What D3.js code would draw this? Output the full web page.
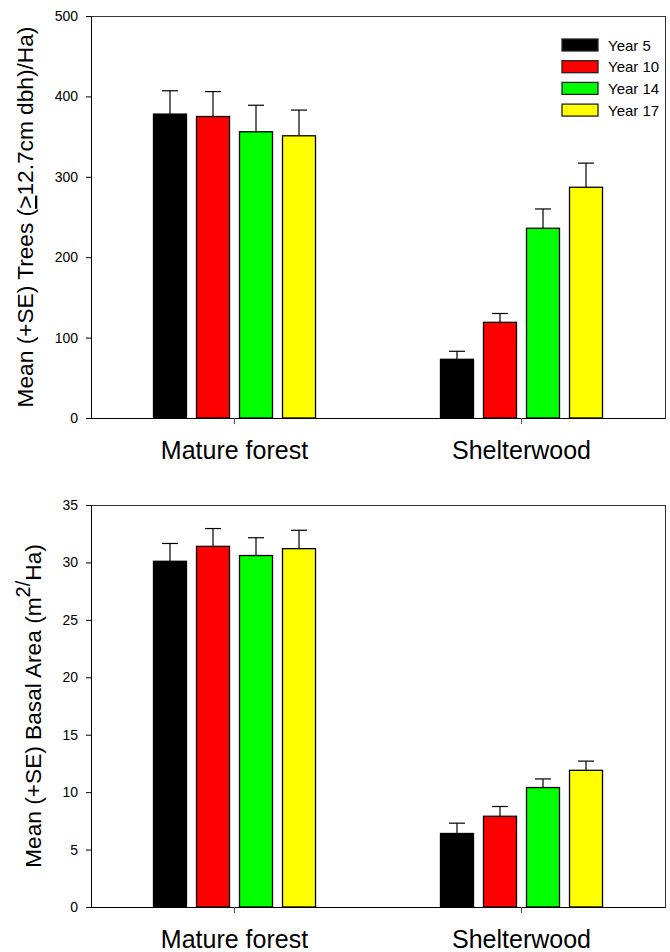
<!DOCTYPE html>
<html>
<head>
<meta charset="utf-8">
<script src="https://cdn.jsdelivr.net/npm/d3@7"></script>
<style>
	html, body { margin: 0; padding: 0; background: #fff; }
	svg { display: block; font-family: Arial, 'Liberation Sans', sans-serif; }
</style>
</head>
<body>
<div id="chart"></div>
<script>
const categories = ['Mature forest', 'Shelterwood'];
const years = ['Year 5', 'Year 10', 'Year 14', 'Year 17'];
const colors = ['#000000', '#ff0000', '#00ff00', '#ffff00'];

// trees per hectare (>=12.7 cm dbh)
const treesMature = [378, 375, 356, 351];
const treesMatureSE = [29, 31, 33, 32];
const treesShelter = [73, 119, 236, 287];
const treesShelterSE = [10, 11, 24, 30];
const treeTicks = [0, 100, 200, 300, 400, 500];

// basal area m2 per hectare
const basalMature = [30.1, 31.4, 30.6, 31.2];
const basalMatureSE = [1.55, 1.55, 1.55, 1.6];
const basalShelter = [6.4, 7.9, 10.4, 11.9];
const basalShelterSE = [0.9, 0.85, 0.75, 0.8];
const basalTicks = [0, 5, 10, 15, 20, 25, 30, 35];

const width = 670;
const height = 952;

const svg = d3
	.select('#chart')
	.append('svg')
	.attr('width', width)
	.attr('height', height);

const toRows = (means, ses) =>
	categories.map((cat, i) => ({
		cat,
		values: years.map((year, j) => ({
			year,
			mean: means[i][j],
			se: ses[i][j],
			fill: colors[j]
		}))
	}));

const drawPanel = ({ top, bottom, left, right, ticks, rows, title }) => {
	const g = svg.append('g');

	const x0 = d3.scaleBand().domain(categories).range([left, right]);
	const x1 = d3
		.scaleBand()
		.domain(years)
		.range([0, x0.bandwidth()])
		.paddingInner(0.2326)
		.paddingOuter(1.453);
	const y = d3
		.scaleLinear()
		.domain([0, d3.max(ticks)])
		.range([bottom, top]);

	// frame
	g.append('rect')
		.attr('x', left)
		.attr('y', top)
		.attr('width', right - left)
		.attr('height', bottom - top)
		.attr('fill', 'none')
		.attr('stroke', '#333')
		.attr('stroke-width', 1)
		.attr('shape-rendering', 'crispEdges');

	const groups = g
		.selectAll('g.cat')
		.data(rows)
		.enter()
		.append('g')
		.attr('class', 'cat')
		.attr('transform', d => `translate(${x0(d.cat)},0)`);

	const bars = groups
		.selectAll('g.bar')
		.data(d => d.values)
		.enter()
		.append('g')
		.attr('class', 'bar');

	// error bars (upper only)
	bars.append('line')
		.attr('x1', d => x1(d.year) + x1.bandwidth() / 2)
		.attr('x2', d => x1(d.year) + x1.bandwidth() / 2)
		.attr('y1', d => y(d.mean))
		.attr('y2', d => y(d.mean + d.se))
		.attr('stroke', '#000')
		.attr('stroke-width', 1.2);

	bars.append('line')
		.attr('x1', d => x1(d.year) + x1.bandwidth() / 2 - 8)
		.attr('x2', d => x1(d.year) + x1.bandwidth() / 2 + 8)
		.attr('y1', d => y(d.mean + d.se))
		.attr('y2', d => y(d.mean + d.se))
		.attr('stroke', '#000')
		.attr('stroke-width', 1.2);

	bars.append('rect')
		.attr('x', d => x1(d.year))
		.attr('y', d => y(d.mean))
		.attr('width', x1.bandwidth())
		.attr('height', d => y(0) - y(d.mean))
		.attr('fill', d => d.fill)
		.attr('stroke', '#000')
		.attr('stroke-width', 1.3);

	// axes
	const yAxis = g
		.append('g')
		.attr('transform', `translate(${left},0)`)
		.call(
			d3
				.axisLeft(y)
				.tickValues(ticks)
				.tickSize(5)
				.tickSizeOuter(0)
				.tickPadding(8)
		);
	yAxis.select('.domain').attr('stroke', '#000');
	yAxis.selectAll('.tick line').attr('stroke', '#000');
	yAxis
		.selectAll('.tick text')
		.attr('font-size', 14)
		.attr('font-family', 'Arial, Liberation Sans, sans-serif')
		.attr('fill', '#000');

	const xAxis = g
		.append('g')
		.attr('transform', `translate(0,${bottom})`)
		.call(
			d3
				.axisBottom(x0)
				.tickSize(6)
				.tickSizeOuter(0)
				.tickPadding(17)
		);
	xAxis.select('.domain').attr('stroke', '#000');
	xAxis.selectAll('.tick line').attr('stroke', '#555');
	xAxis
		.selectAll('.tick text')
		.attr('font-size', 25)
		.attr('font-family', 'Arial, Liberation Sans, sans-serif')
		.attr('fill', '#000');

	// y title
	const t = g
		.append('text')
		.attr('transform', `translate(${title.x},${(top + bottom) / 2}) rotate(-90)`)
		.attr('text-anchor', 'middle')
		.attr('font-size', 22.7)
		.attr('fill', '#000');
	title.parts.forEach(p => {
		const span = t.append('tspan').text(p.text);
		if (p.underline) span.attr('text-decoration', 'underline');
		if (p.sup) span.attr('baseline-shift', 'super').attr('font-size', 20);
	});

	return { x0, x1, y };
};

drawPanel({
	top: 16,
	bottom: 418,
	left: 91,
	right: 665,
	ticks: treeTicks,
	rows: toRows([treesMature, treesShelter], [treesMatureSE, treesShelterSE]),
	title: {
		x: 33,
		parts: [
			{ text: 'Mean (+SE) Trees (' },
			{ text: '>', underline: true },
			{ text: '12.7cm dbh)/Ha)' }
		]
	}
});

drawPanel({
	top: 505,
	bottom: 907,
	left: 91,
	right: 665,
	ticks: basalTicks,
	rows: toRows([basalMature, basalShelter], [basalMatureSE, basalShelterSE]),
	title: {
		x: 41,
		parts: [
			{ text: 'Mean (+SE) Basal Area (m' },
			{ text: '2/', sup: true },
			{ text: 'Ha)' }
		]
	}
});

// legend (top panel)
const legend = svg
	.append('g')
	.selectAll('g')
	.data(years)
	.enter()
	.append('g')
	.attr('transform', (d, i) => `translate(562,${39 + i * 21.7})`);

legend
	.append('rect')
	.attr('width', 36)
	.attr('height', 12)
	.attr('fill', (d, i) => colors[i])
	.attr('stroke', '#222')
	.attr('stroke-width', 1.3);

legend
	.append('text')
	.attr('x', 46)
	.attr('y', 11.5)
	.attr('font-size', 15)
	.attr('fill', '#000')
	.text(d => d);
</script>
</body>
</html>
